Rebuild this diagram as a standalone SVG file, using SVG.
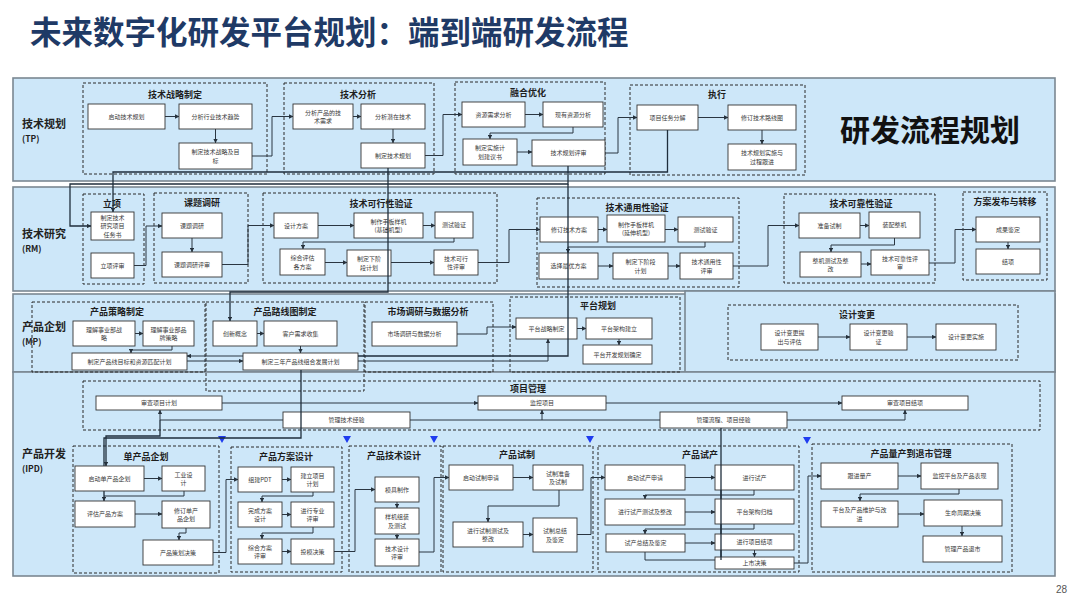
<svg xmlns="http://www.w3.org/2000/svg" width="1080" height="608" viewBox="0 0 1080 608">
<defs>
<marker id="a" viewBox="0 0 6 6" refX="5.6" refY="3" markerWidth="4.5" markerHeight="4.5" orient="auto" markerUnits="userSpaceOnUse"><path d="M0,0 L6,3 L0,6 z" fill="#26323d"/></marker>
<style>
.lane{fill:#cde7f9;stroke:#7b8892;stroke-width:1.6}
.grp{fill:none;stroke:#2a2a2a;stroke-width:1;stroke-dasharray:3 2}
.box{fill:#fff;stroke:#333;stroke-width:0.9}
.t{font-family:"Noto Sans CJK SC","Noto Sans",sans-serif;font-size:6px;fill:#3a3a3a;text-anchor:middle}
.gt{font-family:"Noto Sans CJK SC","Noto Sans",sans-serif;font-size:9px;font-weight:bold;fill:#1e1e1e;text-anchor:middle}
.ll{font-family:"Noto Sans CJK SC","Noto Sans",sans-serif;font-size:11px;font-weight:bold;fill:#222}
.ls{font-family:"Noto Sans CJK SC","Noto Sans",sans-serif;font-size:8.5px;font-weight:bold;fill:#222}
.c{fill:none;stroke:#2a3642;stroke-width:1;marker-end:url(#a)}
.cn{fill:none;stroke:#2a3642;stroke-width:1}
.x{fill:none;stroke:#1f2e3c;stroke-width:1.3}
.xa{fill:none;stroke:#1f2e3c;stroke-width:1.3;marker-end:url(#a)}
.tri{fill:#1f3cf0}
</style>
</defs>
<rect width="1080" height="608" fill="#ffffff"/>
<text x="30" y="44" font-family="'Noto Sans CJK SC','Noto Sans',sans-serif" font-size="31.5" font-weight="bold" fill="#1f3a66">未来数字化研发平台规划：端到端研发流程</text>
<text x="1056" y="593" font-family="'Liberation Sans',sans-serif" font-size="10" fill="#555">28</text>

<g id="lanes">
<rect class="lane" x="13" y="78" width="1042" height="103"/>
<rect class="lane" x="13" y="187" width="1042" height="104"/>
<rect class="lane" x="13" y="294" width="1042" height="78"/>
<rect class="lane" x="685" y="291" width="370" height="81"/>
<rect class="lane" x="13" y="372" width="1042" height="204"/>
<text class="ll" x="22" y="128">技术规划</text><text class="ls" x="22" y="142">(TP)</text>
<text class="ll" x="22" y="238">技术研究</text><text class="ls" x="22" y="252">(RM)</text>
<text class="ll" x="22" y="331">产品企划</text><text class="ls" x="22" y="345">(MP)</text>
<text class="ll" x="22" y="458">产品开发</text><text class="ls" x="22" y="472">(IPD)</text>
<text x="930" y="141" font-family="'Noto Sans CJK SC','Noto Sans',sans-serif" font-size="30" font-weight="bold" fill="#111" text-anchor="middle">研发流程规划</text>
</g>

<g id="groups">
<rect class="grp" x="83" y="83" width="184" height="91"/><text class="gt" x="175" y="98">技术战略制定</text>
<rect class="grp" x="284" y="83" width="150" height="91"/><text class="gt" x="358" y="98">技术分析</text>
<rect class="grp" x="455" y="82" width="150" height="92"/><text class="gt" x="528" y="96">融合优化</text>
<rect class="grp" x="630" y="85" width="175" height="90"/><text class="gt" x="717" y="98">执行</text>
<rect class="grp" x="83" y="194" width="61" height="90"/><text class="gt" x="112" y="207">立项</text>
<rect class="grp" x="154" y="193" width="94" height="90"/><text class="gt" x="202" y="206">课题调研</text>
<rect class="grp" x="263" y="193" width="234" height="90"/><text class="gt" x="381" y="207">技术可行性验证</text>
<rect class="grp" x="537" y="198" width="202" height="89"/><text class="gt" x="637" y="211">技术通用性验证</text>
<rect class="grp" x="784" y="194" width="151" height="89"/><text class="gt" x="861" y="207">技术可靠性验证</text>
<rect class="grp" x="963" y="192" width="84" height="88"/><text class="gt" x="1005" y="205">方案发布与转移</text>
<rect class="grp" x="32" y="302" width="173" height="70"/><text class="gt" x="117" y="315">产品策略制定</text>
<rect class="grp" x="206" y="302" width="158" height="89"/><text class="gt" x="285" y="315">产品路线图制定</text>
<rect class="grp" x="365" y="302" width="128" height="70"/><text class="gt" x="428" y="315">市场调研与数据分析</text>
<rect class="grp" x="510" y="297" width="170" height="75"/><text class="gt" x="598" y="309">平台规划</text>
<rect class="grp" x="728" y="305" width="290" height="55"/><text class="gt" x="857" y="318">设计变更</text>
<rect class="grp" x="83" y="381" width="957" height="49"/><text class="gt" x="528" y="392">项目管理</text>
<rect class="grp" x="73" y="446" width="146" height="127"/><text class="gt" x="146" y="460">单产品企划</text>
<rect class="grp" x="231" y="447" width="111" height="125"/><text class="gt" x="286" y="460">产品方案设计</text>
<rect class="grp" x="349" y="446" width="92" height="126"/><text class="gt" x="394" y="459">产品技术设计</text>
<rect class="grp" x="443" y="446" width="150" height="126"/><text class="gt" x="517" y="458">产品试制</text>
<rect class="grp" x="598" y="446" width="201" height="126"/><text class="gt" x="700" y="458">产品试产</text>
<rect class="grp" x="812" y="444" width="200" height="128"/><text class="gt" x="911" y="457">产品量产到退市管理</text>
<path class="tri" d="M218,436 H226 L222,443 Z M343,436 H351 L347,443 Z M430,436 H438 L434,443 Z M586,436 H594 L590,443 Z M803,437 H811 L807,444 Z"/>
</g>

<g id="connectors">
<path class="c" d="M165 116.5 H179"/>
<path class="c" d="M215.5 129 V143"/>
<path class="c" d="M252 156 H272 V116.5 H293"/>
<path class="c" d="M353 116.5 H361"/>
<path class="c" d="M393 129 V143"/>
<path class="c" d="M425 155.5 H443 V114.5 H462"/>
<path class="c" d="M525 114.5 H543"/>
<path class="c" d="M573 127 V133 H490 V139"/>
<path class="c" d="M517 152 H532"/>
<path class="c" d="M605 153 H618 V117.5 H637"/>
<path class="c" d="M698 117.5 H728"/>
<path class="c" d="M762 130 V144"/>
<path class="c" d="M134 265.5 H146 V226 H162"/>
<path class="c" d="M192 238 V252"/>
<path class="c" d="M222 264.5 H248 V225.5 H274"/>
<path class="c" d="M318 225.5 H354"/>
<path class="c" d="M423 225.5 H435"/>
<path class="c" d="M454 238 V242 H303 V249"/>
<path class="c" d="M325 262.5 H347"/>
<path class="c" d="M391 262.5 H434"/>
<path class="c" d="M478 262.5 H509 V229.5 H540"/>
<path class="c" d="M598 229.5 H607"/>
<path class="c" d="M665 229.5 H678"/>
<path class="c" d="M705 242 V247 H568 V253"/>
<path class="c" d="M598 266 H613"/>
<path class="c" d="M668 266 H680"/>
<path class="c" d="M733 266 H768 V225.5 H799"/>
<path class="c" d="M860 225.5 H869"/>
<path class="c" d="M894.5 238 V245 H831 V252"/>
<path class="c" d="M861 264 H871"/>
<path class="c" d="M929 263 H955 V229.5 H976"/>
<path class="c" d="M1008 242 V249"/>
<path class="c" d="M135 333.5 H143"/>
<path class="c" d="M172 346 V350 H131 V353"/>
<path class="c" d="M187 361 H243"/>
<path class="c" d="M257 333.5 H264"/>
<path class="c" d="M300.5 346 V353"/>
<path class="c" d="M457 334 H487 V327 H516"/>
<path class="c" d="M358 361 H548 V339"/>
<path class="c" d="M577 328.5 H586"/>
<path class="c" d="M619 339 V345"/>
<path class="c" d="M818 337 H850"/>
<path class="c" d="M907 337 H936"/>
<path class="c" d="M222 403 H478"/>
<path class="c" d="M606 403 H842"/>
<path class="c" d="M283 420 H160 V410"/>
<path class="cn" d="M410 420 H660"/>
<path class="c" d="M542 420 V410"/>
<path class="c" d="M787 420 H905 V410"/>
<path class="c" d="M144 478.5 H162"/>
<path class="cn" d="M184 491 V496 H104"/>
<path class="c" d="M135 514 H162"/>
<path class="c" d="M186 528 V533 H179 V540"/>
<path class="c" d="M213 552.5 H226 V479.5 H238"/>
<path class="c" d="M282 479.5 H291"/>
<path class="c" d="M313 492 V496 H262 V502"/>
<path class="c" d="M282 514.5 H291"/>
<path class="c" d="M313 527 V533 H262 V539"/>
<path class="c" d="M282 551.5 H291"/>
<path class="c" d="M334 551.5 H355 V489.5 H375"/>
<path class="c" d="M397 502 V508"/>
<path class="c" d="M397 534 V539"/>
<path class="c" d="M419 552 H434 V477.5 H449"/>
<path class="c" d="M513 477.5 H533"/>
<path class="c" d="M559 490 V506 H488 V522"/>
<path class="c" d="M523 534.5 H533"/>
<path class="c" d="M577 534.5 H591 V477.5 H605"/>
<path class="c" d="M685 477.5 H715"/>
<path class="c" d="M754 490 V495 H645 V499"/>
<path class="c" d="M685 512 H715"/>
<path class="c" d="M754 524 V529 H645 V534"/>
<path class="c" d="M685 543 H715"/>
<path class="c" d="M754.5 550 V557"/>
<path class="cn" d="M645 552 V560 H720"/>
<path class="c" d="M794 563 H808 V476 H821"/>
<path class="c" d="M898 476 H921"/>
<path class="c" d="M959 489 V494 H860 V501"/>
<path class="c" d="M898 514 H924"/>
<path class="c" d="M962 526 V536"/>
</g>

<g id="n_qdjsgh"><rect class="box" x="88" y="104" width="77" height="25"/><text class="t" x="126.5" y="118.7">启动技术规划</text></g>
<g id="n_fxhyqs"><rect class="box" x="179" y="104" width="73" height="25"/><text class="t" x="215.5" y="118.7">分析行业技术趋势</text></g>
<g id="n_zdzl"><rect class="box" x="179" y="143" width="73" height="26"/><text class="t" x="215.5" y="154">制定技术战略及目<tspan x="215.5" dy="8.6">标</tspan></text></g>
<g id="n_fxcpxq"><rect class="box" x="293" y="104" width="60" height="25"/><text class="t" x="323" y="114.5">分析产品的技<tspan x="323" dy="8.6">术需求</tspan></text></g>
<g id="n_fxqzjs"><rect class="box" x="361" y="104" width="64" height="25"/><text class="t" x="393" y="118.7">分析潜在技术</text></g>
<g id="n_zdjsgh"><rect class="box" x="361" y="143" width="64" height="25"/><text class="t" x="393" y="157.7">制定技术规划</text></g>
<g id="n_zyxq"><rect class="box" x="462" y="102" width="63" height="25"/><text class="t" x="493.5" y="116.7">资源需求分析</text></g>
<g id="n_xyzy"><rect class="box" x="543" y="102" width="60" height="25"/><text class="t" x="573" y="116.7">现有资源分析</text></g>
<g id="n_ssjh"><rect class="box" x="463" y="139" width="54" height="26"/><text class="t" x="490" y="150">制定实施计<tspan x="490" dy="8.6">划建议书</tspan></text></g>
<g id="n_ghps"><rect class="box" x="532" y="140" width="73" height="26"/><text class="t" x="568.5" y="155.2">技术规划评审</text></g>
<g id="n_rwfj"><rect class="box" x="637" y="105" width="61" height="25"/><text class="t" x="667.5" y="119.7">项目任务分解</text></g>
<g id="n_xdlxt"><rect class="box" x="728" y="105" width="68" height="25"/><text class="t" x="762" y="119.7">修订技术路线图</text></g>
<g id="n_ghss"><rect class="box" x="728" y="144" width="68" height="26"/><text class="t" x="762" y="155">技术规划实施与<tspan x="762" dy="8.6">过程跟进</tspan></text></g>

<g id="n_rws"><rect class="box" x="91" y="212" width="43" height="28"/><text class="t" x="112.5" y="219.7">制定技术<tspan x="112.5" dy="8.6">研究项目</tspan><tspan x="112.5" dy="8.6">任务书</tspan></text></g>
<g id="n_lxps"><rect class="box" x="91" y="253" width="43" height="25"/><text class="t" x="112.5" y="267.7">立项评审</text></g>
<g id="n_ktdy"><rect class="box" x="162" y="213" width="60" height="25"/><text class="t" x="192" y="227.7">课题调研</text></g>
<g id="n_ktps"><rect class="box" x="162" y="252" width="60" height="25"/><text class="t" x="192" y="266.7">课题调研评审</text></g>
<g id="n_sjfa"><rect class="box" x="274" y="213" width="44" height="25"/><text class="t" x="296" y="227.7">设计方案</text></g>
<g id="n_sbjc"><rect class="box" x="354" y="213" width="69" height="25"/><text class="t" x="388.5" y="223.5">制作手板样机<tspan x="388.5" dy="8.6">(基础机型)</tspan></text></g>
<g id="n_csyz1"><rect class="box" x="435" y="212" width="38" height="26"/><text class="t" x="454" y="227.2">测试验证</text></g>
<g id="n_zhpg"><rect class="box" x="280" y="249" width="45" height="26"/><text class="t" x="302.5" y="260">综合评估<tspan x="302.5" dy="8.6">各方案</tspan></text></g>
<g id="n_xjd1"><rect class="box" x="347" y="250" width="44" height="26"/><text class="t" x="369" y="261">制定下阶<tspan x="369" dy="8.6">段计划</tspan></text></g>
<g id="n_kxps"><rect class="box" x="434" y="250" width="44" height="25"/><text class="t" x="456" y="260.5">技术可行<tspan x="456" dy="8.6">性评审</tspan></text></g>
<g id="n_xdfa"><rect class="box" x="540" y="217" width="58" height="25"/><text class="t" x="569" y="231.7">修订技术方案</text></g>
<g id="n_sbys"><rect class="box" x="607" y="215" width="58" height="27"/><text class="t" x="636" y="226.5">制作手板样机<tspan x="636" dy="8.6">(延伸机型)</tspan></text></g>
<g id="n_csyz2"><rect class="box" x="678" y="217" width="55" height="25"/><text class="t" x="705.5" y="231.7">测试验证</text></g>
<g id="n_xzzy"><rect class="box" x="539" y="253" width="59" height="26"/><text class="t" x="568.5" y="268.2">选择最优方案</text></g>
<g id="n_xjd2"><rect class="box" x="613" y="253" width="55" height="26"/><text class="t" x="640.5" y="264">制定下阶段<tspan x="640.5" dy="8.6">计划</tspan></text></g>
<g id="n_typs"><rect class="box" x="680" y="253" width="53" height="26"/><text class="t" x="706.5" y="264">技术通用性<tspan x="706.5" dy="8.6">评审</tspan></text></g>
<g id="n_zbsz"><rect class="box" x="799" y="213" width="61" height="25"/><text class="t" x="829.5" y="227.7">准备试制</text></g>
<g id="n_zpzj"><rect class="box" x="869" y="212" width="51" height="26"/><text class="t" x="894.5" y="227.2">装配整机</text></g>
<g id="n_zjcs"><rect class="box" x="800" y="252" width="61" height="25"/><text class="t" x="830.5" y="262.5">整机测试及整<tspan x="830.5" dy="8.6">改</tspan></text></g>
<g id="n_kkps"><rect class="box" x="871" y="250" width="58" height="25"/><text class="t" x="900" y="260.5">技术可靠性评<tspan x="900" dy="8.6">审</tspan></text></g>
<g id="n_cgjd"><rect class="box" x="976" y="217" width="64" height="25"/><text class="t" x="1008" y="231.7">成果鉴定</text></g>
<g id="n_jx"><rect class="box" x="976" y="249" width="64" height="25"/><text class="t" x="1008" y="263.7">结项</text></g>

<g id="n_ljzl"><rect class="box" x="73" y="321" width="62" height="25"/><text class="t" x="104" y="331.5">理解事业部战<tspan x="104" dy="8.6">略</tspan></text></g>
<g id="n_ljpp"><rect class="box" x="143" y="321" width="51" height="25"/><text class="t" x="168.5" y="331.5">理解事业部品<tspan x="168.5" dy="8.6">牌策略</tspan></text></g>
<g id="n_cpxmb"><rect class="box" x="72" y="353" width="115" height="17"/><text class="t" x="129.5" y="363.7">制定产品线目标和资源匹配计划</text></g>
<g id="n_cxgn"><rect class="box" x="213" y="321" width="44" height="25"/><text class="t" x="235" y="335.7">创新概念</text></g>
<g id="n_khxq"><rect class="box" x="264" y="321" width="73" height="25"/><text class="t" x="300.5" y="335.7">客户需求收集</text></g>
<g id="n_snjh"><rect class="box" x="243" y="353" width="115" height="17"/><text class="t" x="300.5" y="363.7">制定三年产品线组合发展计划</text></g>
<g id="n_scdy"><rect class="box" x="372" y="322" width="85" height="24"/><text class="t" x="414.5" y="336.2">市场调研与数据分析</text></g>
<g id="n_ptzl"><rect class="box" x="516" y="318" width="61" height="21"/><text class="t" x="546.5" y="330.7">平台战略制定</text></g>
<g id="n_ptjg"><rect class="box" x="586" y="318" width="66" height="21"/><text class="t" x="619" y="330.7">平台架构建立</text></g>
<g id="n_ptkf"><rect class="box" x="583" y="345" width="69" height="19"/><text class="t" x="617.5" y="356.7">平台开发规划确定</text></g>
<g id="n_bgtc"><rect class="box" x="761" y="324" width="57" height="26"/><text class="t" x="789.5" y="335">设计变更提<tspan x="789.5" dy="8.6">出与评估</tspan></text></g>
<g id="n_bgyz"><rect class="box" x="850" y="324" width="57" height="26"/><text class="t" x="878.5" y="335">设计变更验<tspan x="878.5" dy="8.6">证</tspan></text></g>
<g id="n_bgss"><rect class="box" x="936" y="324" width="60" height="26"/><text class="t" x="966" y="339.2">设计变更实施</text></g>

<g id="n_scjh"><rect class="box" x="96" y="396" width="126" height="14"/><text class="t" x="159" y="405.2">审查项目计划</text></g>
<g id="n_jkxm"><rect class="box" x="478" y="396" width="128" height="14"/><text class="t" x="542" y="405.2">监控项目</text></g>
<g id="n_scjx"><rect class="box" x="842" y="396" width="126" height="14"/><text class="t" x="905" y="405.2">审查项目结项</text></g>
<g id="n_gljs"><rect class="box" x="283" y="412" width="127" height="16"/><text class="t" x="346.5" y="422.2">管理技术经验</text></g>
<g id="n_gllc"><rect class="box" x="660" y="412" width="127" height="16"/><text class="t" x="723.5" y="422.2">管理流程、项目经验</text></g>

<g id="cross">
<path class="xa" d="M667.5 130 V172 H113 V212"/>
<path class="xa" d="M568 166 V184 H70 V226 H91"/>
<path class="x" d="M568 184 V356 H358"/>
<path class="c" d="M243 356 H187"/>
<path class="xa" d="M388 168 V292 H230 V321"/>
<path class="xa" d="M160 420 V436 H106 V466"/>
<path class="xa" d="M301 370 V438 H104 V501"/>
<path class="x" d="M721 428 V560"/>
</g>

<g id="n_qddcp"><rect class="box" x="75" y="466" width="69" height="25"/><text class="t" x="109.5" y="480.7">启动单产品企划</text></g>
<g id="n_gysj"><rect class="box" x="162" y="466" width="43" height="25"/><text class="t" x="183.5" y="476.5">工业设<tspan x="183.5" dy="8.6">计</tspan></text></g>
<g id="n_pgfa"><rect class="box" x="75" y="501" width="60" height="26"/><text class="t" x="105" y="516.2">评估产品方案</text></g>
<g id="n_xddcp"><rect class="box" x="162" y="501" width="48" height="27"/><text class="t" x="186" y="512.5">修订单产<tspan x="186" dy="8.6">品企划</tspan></text></g>
<g id="n_chjc"><rect class="box" x="143" y="540" width="70" height="25"/><text class="t" x="178" y="554.7">产品策划决策</text></g>
<g id="n_pdt"><rect class="box" x="238" y="467" width="44" height="25"/><text class="t" x="260" y="481.7">组建PDT</text></g>
<g id="n_xmjh"><rect class="box" x="291" y="467" width="43" height="25"/><text class="t" x="312.5" y="477.5">建立项目<tspan x="312.5" dy="8.6">计划</tspan></text></g>
<g id="n_wcfa"><rect class="box" x="238" y="502" width="44" height="25"/><text class="t" x="260" y="512.5">完成方案<tspan x="260" dy="8.6">设计</tspan></text></g>
<g id="n_zyps"><rect class="box" x="291" y="502" width="43" height="25"/><text class="t" x="312.5" y="512.5">进行专业<tspan x="312.5" dy="8.6">评审</tspan></text></g>
<g id="n_zhfa"><rect class="box" x="238" y="539" width="44" height="25"/><text class="t" x="260" y="549.5">综合方案<tspan x="260" dy="8.6">评审</tspan></text></g>
<g id="n_tmjc"><rect class="box" x="291" y="539" width="43" height="25"/><text class="t" x="312.5" y="553.7">投模决策</text></g>
<g id="n_mjzz"><rect class="box" x="375" y="477" width="44" height="25"/><text class="t" x="397" y="491.7">模具制作</text></g>
<g id="n_yjzz"><rect class="box" x="375" y="508" width="44" height="26"/><text class="t" x="397" y="519">样机组装<tspan x="397" dy="8.6">及测试</tspan></text></g>
<g id="n_jssjps"><rect class="box" x="375" y="539" width="44" height="27"/><text class="t" x="397" y="550.5">技术设计<tspan x="397" dy="8.6">评审</tspan></text></g>
<g id="n_qdsz"><rect class="box" x="449" y="465" width="64" height="25"/><text class="t" x="481" y="479.7">启动试制申请</text></g>
<g id="n_szzb"><rect class="box" x="533" y="465" width="50" height="25"/><text class="t" x="558" y="475.5">试制准备<tspan x="558" dy="8.6">及试制</tspan></text></g>
<g id="n_szcs"><rect class="box" x="453" y="522" width="70" height="25"/><text class="t" x="488" y="532.5">进行试制测试及<tspan x="488" dy="8.6">整改</tspan></text></g>
<g id="n_szzj"><rect class="box" x="533" y="518" width="44" height="34"/><text class="t" x="555" y="533">试制总结<tspan x="555" dy="8.6">及鉴定</tspan></text></g>
<g id="n_qdsc"><rect class="box" x="605" y="465" width="80" height="25"/><text class="t" x="645" y="479.7">启动试产申请</text></g>
<g id="n_sccs"><rect class="box" x="605" y="499" width="80" height="26"/><text class="t" x="645" y="514.2">进行试产测试及整改</text></g>
<g id="n_sczj"><rect class="box" x="606" y="534" width="79" height="18"/><text class="t" x="645.5" y="545.2">试产总结及鉴定</text></g>
<g id="n_jxsc"><rect class="box" x="715" y="465" width="79" height="25"/><text class="t" x="754.5" y="479.7">进行试产</text></g>
<g id="n_ptgd"><rect class="box" x="715" y="499" width="79" height="25"/><text class="t" x="754.5" y="513.7">平台架构归档</text></g>
<g id="n_xmjx"><rect class="box" x="715" y="534" width="79" height="16"/><text class="t" x="754.5" y="544.2">进行项目结项</text></g>
<g id="n_ssjc"><rect class="box" x="715" y="557" width="79" height="12"/><text class="t" x="754.5" y="565.2">上市决策</text></g>
<g id="n_gjlc"><rect class="box" x="821" y="463" width="77" height="26"/><text class="t" x="859.5" y="478.2">跟进量产</text></g>
<g id="n_jkpt"><rect class="box" x="921" y="463" width="77" height="26"/><text class="t" x="959.5" y="478.2">监控平台及产品表现</text></g>
<g id="n_whgj"><rect class="box" x="821" y="501" width="77" height="26"/><text class="t" x="859.5" y="512">平台及产品维护与改<tspan x="859.5" dy="8.6">进</tspan></text></g>
<g id="n_smzq"><rect class="box" x="924" y="500" width="78" height="26"/><text class="t" x="963" y="515.2">生命周期决策</text></g>
<g id="n_glts"><rect class="box" x="923" y="536" width="79" height="26"/><text class="t" x="962.5" y="551.2">管理产品退市</text></g>
<path class="x" d="M721 465 V560"/>
</svg>
